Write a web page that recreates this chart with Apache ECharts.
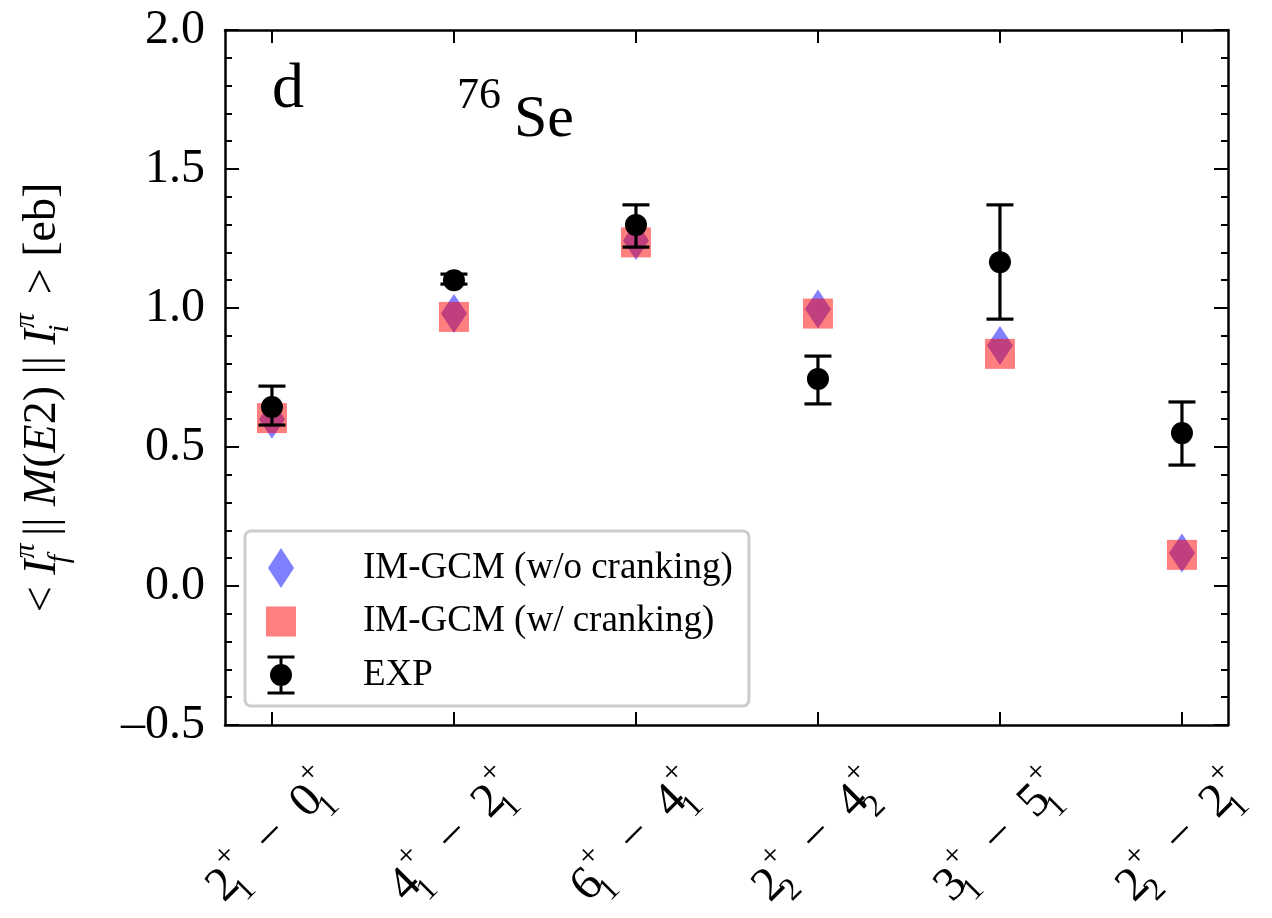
<!DOCTYPE html>
<html>
<head>
<meta charset="utf-8">
<script src="https://cdn.jsdelivr.net/npm/echarts@6/dist/echarts.min.js"></script>
<style>
html, body { margin: 0; padding: 0; background: #fff; }
#main { width: 1272px; height: 918px; }
</style>
</head>
<body>
<div id="main"></div>
<script>
// transitions: [Ii, sub, Ij, sub]
var transitions = [
	['2', '1', '0', '1'],
	['4', '1', '2', '1'],
	['6', '1', '4', '1'],
	['2', '2', '4', '2'],
	['3', '1', '5', '1'],
	['2', '2', '2', '1']
];
var noCranking = [0.600, 0.980, 1.243, 0.996, 0.865, 0.119];
var withCranking = [0.604, 0.968, 1.236, 0.980, 0.835, 0.112];
var expValue = [0.644, 1.100, 1.299, 0.745, 1.165, 0.550];
var expLow = [0.579, 1.086, 1.219, 0.655, 0.960, 0.435];
var expHigh = [0.719, 1.122, 1.371, 0.827, 1.371, 0.662];

var FONT = 'Liberation Serif';
var catIdx = transitions.map(function (t, i) { return i; });

function tickLabel(v) {
	var t = transitions[Math.round(v)];
	if (!t) return '';
	return '{n|' + t[0] + '}{sb|' + t[1] + '}{sp|+}{n|  −  ' + t[2] + '}{sb|' + t[3] + '}{sp|+}';
}

var iconDiamond = 'path://M0,-20 L13,0 L0,20 L-13,0 Z';
var iconSquare = 'path://M0,-20 M-15,-15 L15,-15 L15,15 L-15,15 Z M0,20';
var iconExp = 'path://M0,-20 M-11,0 A11,11 0 1,1 11,0 A11,11 0 1,1 -11,0 Z ' +
	'M-1.5,-18 L1.5,-18 L1.5,18 L-1.5,18 Z ' +
	'M-13.5,-19.5 L13.5,-19.5 L13.5,-16.5 L-13.5,-16.5 Z ' +
	'M-13.5,16.5 L13.5,16.5 L13.5,19.5 L-13.5,19.5 Z M0,20';

var axisLine = { show: true, onZero: false, lineStyle: { color: '#000', width: 2.5 } };

var option = {
	animation: false,
	backgroundColor: '#fff',
	grid: { left: 225, top: 30, right: 44, bottom: 193, containLabel: false, outerBoundsMode: 'none' },
	xAxis: [
		{
			type: 'value', min: -0.258, max: 5.253, position: 'bottom',
			axisLine: axisLine,
			splitLine: { show: false },
			axisTick: { show: true, inside: true, length: 13, customValues: catIdx, lineStyle: { color: '#000', width: 2 } },
			axisLabel: {
				show: true, customValues: catIdx, rotate: 45, margin: 112,
				align: 'center', verticalAlign: 'middle',
				formatter: tickLabel,
				rich: {
					n: { fontFamily: FONT, fontSize: 48, lineHeight: 70, color: '#000' },
					sb: { fontFamily: FONT, fontSize: 32, lineHeight: 36, width: 1, verticalAlign: 'bottom', color: '#000' },
					sp: { fontFamily: FONT, fontSize: 32, lineHeight: 42, verticalAlign: 'top', color: '#000' }
				}
			}
		},
		{
			type: 'value', min: -0.258, max: 5.253, position: 'top',
			axisLine: axisLine,
			splitLine: { show: false },
			axisTick: { show: true, inside: true, length: 13, customValues: catIdx, lineStyle: { color: '#000', width: 2 } },
			axisLabel: { show: false }
		}
	],
	yAxis: [
		{
			type: 'value', min: -0.5, max: 2.0, interval: 0.5, position: 'left',
			axisLine: axisLine,
			splitLine: { show: false },
			axisTick: { show: true, inside: true, length: 14, lineStyle: { color: '#000', width: 2 } },
			minorTick: { show: true, splitNumber: 5, length: 7, lineStyle: { color: '#000', width: 2 } },
			axisLabel: {
				margin: 20, fontFamily: FONT, fontSize: 48, color: '#000',
				formatter: function (v) { return v < 0 ? '\u2013' + Math.abs(v).toFixed(1) : v.toFixed(1); }
			},
			name: '{r|< }{i|I}{sb|f}{sp|π }{r||| }{i|M}{r|(}{i|E}{r|2) || }{i|I}{sb|i}{sp|π }{e| > [eb]}',
			nameLocation: 'middle', nameRotate: 90, nameGap: 150,
			nameTextStyle: {
				rich: {
					r: { fontFamily: FONT, fontSize: 46, lineHeight: 64, color: '#000' },
					e: { fontFamily: FONT, fontSize: 46, lineHeight: 64, color: '#000', padding: [0, 40, 0, 0] },
					i: { fontFamily: FONT, fontStyle: 'italic', fontSize: 46, lineHeight: 64, color: '#000' },
					sb: { fontFamily: FONT, fontStyle: 'italic', fontSize: 30, lineHeight: 32, width: 1, verticalAlign: 'bottom', color: '#000' },
					sp: { fontFamily: FONT, fontStyle: 'italic', fontSize: 30, lineHeight: 38, verticalAlign: 'top', color: '#000' }
				}
			}
		},
		{
			type: 'value', min: -0.5, max: 2.0, interval: 0.5, position: 'right',
			axisLine: axisLine,
			splitLine: { show: false },
			axisTick: { show: true, inside: true, length: 14, lineStyle: { color: '#000', width: 2 } },
			minorTick: { show: true, splitNumber: 5, length: 7, lineStyle: { color: '#000', width: 2 } },
			axisLabel: { show: false }
		}
	],
	legend: {
		orient: 'vertical', left: 245, top: 531,
		padding: [17, 16, 11, 21],
		itemWidth: 60, itemHeight: 40, itemGap: 13.5,
		backgroundColor: '#fff', borderColor: '#cccccc', borderWidth: 3, borderRadius: 6,
		textStyle: { fontFamily: FONT, fontSize: 37, color: '#000', padding: [0, 0, 0, 47] },
		selectedMode: false,
		data: [
			{ name: 'IM-GCM (w/o cranking)', icon: iconDiamond, itemStyle: { color: 'rgba(0,0,255,0.5)' } },
			{ name: 'IM-GCM (w/ cranking)', icon: iconSquare, itemStyle: { color: 'rgba(255,0,0,0.5)' } },
			{ name: 'EXP', icon: iconExp, itemStyle: { color: '#000' } }
		]
	},
	graphic: [
		{ type: 'text', left: 272, top: 58, style: { text: 'd', font: '64px "Liberation Serif"', fill: '#000' } },
		{
			type: 'text', left: 457, top: 74,
			style: {
				text: '{a|76}{b|Se}', fill: '#000',
				rich: {
					a: { fontFamily: FONT, fontSize: 44, lineHeight: 76, verticalAlign: 'top' },
					b: { fontFamily: FONT, fontSize: 60, lineHeight: 76, verticalAlign: 'bottom', padding: [0, 0, 0, 13] }
				}
			}
		}
	],
	series: [
		{
			name: 'IM-GCM (w/o cranking)', type: 'scatter',
			symbol: 'diamond', symbolSize: [26, 39],
			itemStyle: { color: 'rgba(0,0,255,0.5)', opacity: 1 },
			data: noCranking.map(function (v, i) { return [i, v]; })
		},
		{
			name: 'IM-GCM (w/ cranking)', type: 'scatter',
			symbol: 'rect', symbolSize: [30, 30],
			itemStyle: { color: 'rgba(255,0,0,0.5)', opacity: 1 },
			data: withCranking.map(function (v, i) { return [i, v]; })
		},
		{
			name: 'EXP', type: 'custom',
			renderItem: function (params, api) {
				var x = api.value(0);
				var lo = api.coord([x, api.value(1)]);
				var hi = api.coord([x, api.value(2)]);
				var half = 13.5;
				var st = { stroke: '#000', lineWidth: 3.2 };
				return {
					type: 'group',
					children: [
						{ type: 'line', shape: { x1: lo[0], y1: lo[1], x2: hi[0], y2: hi[1] }, style: st },
						{ type: 'line', shape: { x1: lo[0] - half, y1: lo[1], x2: lo[0] + half, y2: lo[1] }, style: st },
						{ type: 'line', shape: { x1: hi[0] - half, y1: hi[1], x2: hi[0] + half, y2: hi[1] }, style: st }
					]
				};
			},
			encode: { x: 0, y: [1, 2] },
			data: expLow.map(function (v, i) { return [i, v, expHigh[i]]; }),
			z: 3
		},
		{
			name: 'EXP', type: 'scatter',
			symbol: 'circle', symbolSize: 22,
			itemStyle: { color: '#000', opacity: 1 },
			data: expValue.map(function (v, i) { return [i, v]; }),
			z: 3
		}
	]
};

var myChart = echarts.init(document.getElementById('main'));
myChart.setOption(option);
</script>
</body>
</html>
